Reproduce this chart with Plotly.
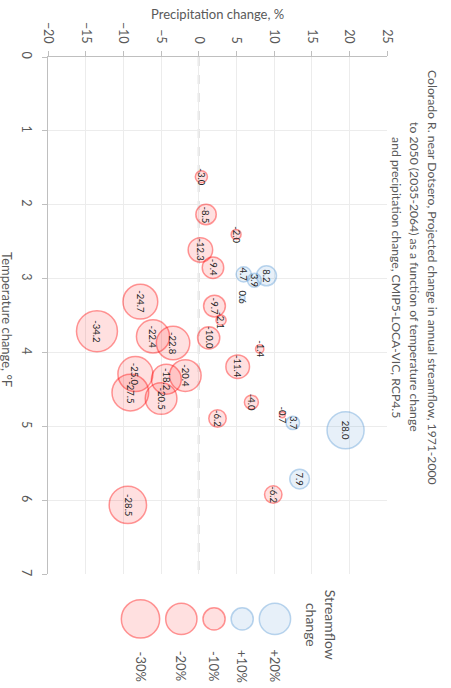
import math
import plotly.graph_objects as go

# Projected change per GCM: precipitation change (%), temperature change (°F), streamflow change (%)
precip_change = [0.36, 0.98, 4.97, 0.23, 1.9, 5.98, 7.4, 9.0, 5.8, 2.1, 2.97, 1.33,
                 -7.74, -13.5, -6.06, -3.4, -8.4, -9.07, -4.29, -1.77, -4.99, 2.5,
                 5.18, 8.1, 7.0, 11.1, 12.5, 19.5, 13.4, 9.9, -9.4]
temp_change = [1.62, 2.13, 2.40, 2.61, 2.85, 2.94, 3.02, 2.96, 3.26, 3.37, 3.56, 3.80,
               3.31, 3.71, 3.78, 3.87, 4.29, 4.54, 4.36, 4.31, 4.62, 4.89,
               4.19, 3.95, 4.67, 4.84, 4.95, 5.05, 5.71, 5.92, 6.06]
flow_change = [-3.0, -8.5, -2.0, -12.3, -9.4, 4.7, 3.9, 8.2, 0.6, -9.7, -2.1, -10.0,
               -24.7, -34.2, -22.4, -22.8, -25.0, -27.5, -18.2, -20.4, -20.5, -6.2,
               -11.4, -1.4, -4.0, -0.7, 3.7, 28.0, 7.9, -6.2, -28.5]

legend_values = [-30, -20, -10, 10, 20]
legend_labels = ["-30%", "-20%", "-10%", "+10%", "+20%"]

x_ticks = [-20, -15, -10, -5, 0, 5, 10, 15, 20, 25]
y_ticks = [0, 1, 2, 3, 4, 5, 6, 7]

TITLE_LINES = [
    "Colorado R. near Dotsero, Projected change in annual streamflow, 1971-2000",
    "to 2050 (2035-2064) as a function of temperature change",
    "and precipitation change, CMIP5-LOCA-VIC, RCP4.5",
]

FONT = "Lato, Carlito, Calibri, sans-serif"
GREY = "#595959"
RED_FILL, RED_LINE = "rgba(255,0,0,0.17)", "rgba(255,0,0,0.58)"
BLUE_FILL, BLUE_LINE = "rgba(91,155,213,0.2)", "rgba(91,155,213,0.6)"

W, H = 451, 688
L, R, T, B = 47.7, 64.4, 56.7, 0
PLOT_H = H - T - B
MAIN_BOTTOM = 576.0                       # pixel row of the 7 °F line
main_dom0 = (H - MAIN_BOTTOM) / PLOT_H
LEG_TOP = 580.0
leg_dom1 = (H - LEG_TOP) / PLOT_H

K = 3.5  # bubble radius (px) per sqrt(|% change|)


def diameter(v):
    return 2 * K * math.sqrt(abs(v))


def fill(v):
    return RED_FILL if v < 0 else BLUE_FILL


def edge(v):
    return RED_LINE if v < 0 else BLUE_LINE


# draw larger bubbles first so small ones stay visible
order = sorted(range(len(flow_change)), key=lambda i: -abs(flow_change[i]))

fig = go.Figure()

fig.add_trace(go.Scatter(
    x=[precip_change[i] for i in order],
    y=[temp_change[i] for i in order],
    mode="markers",
    marker=dict(
        size=[diameter(flow_change[i]) for i in order],
        sizemode="diameter",
        color=[fill(flow_change[i]) for i in order],
        line=dict(color=[edge(flow_change[i]) for i in order], width=1.5),
    ),
    cliponaxis=False,
    hoverinfo="skip",
    showlegend=False,
))

# size legend: bubbles laid out side by side with a fixed gap
gap = 6
leg_x = []
cursor = 121.0
for v in legend_values:
    r = diameter(v) / 2
    leg_x.append(cursor + r)
    cursor += 2 * r + gap
leg_y = 620.7

fig.add_trace(go.Scatter(
    x=leg_x,
    y=[leg_y] * len(legend_values),
    mode="markers",
    marker=dict(
        size=[diameter(v) for v in legend_values],
        sizemode="diameter",
        color=[fill(v) for v in legend_values],
        line=dict(color=[edge(v) for v in legend_values], width=1.5),
    ),
    xaxis="x2", yaxis="y2",
    cliponaxis=False,
    hoverinfo="skip",
    showlegend=False,
))

annotations = []
for p, t, v in zip(precip_change, temp_change, flow_change):
    annotations.append(dict(
        x=p, y=t, xref="x", yref="y", text=f"{v:.1f}", textangle=90,
        showarrow=False, xanchor="center", yanchor="middle",
        font=dict(family=FONT, size=9.5, color="#262626"),
    ))

for x, lab in zip(leg_x, legend_labels):
    annotations.append(dict(
        x=x, y=668, xref="x2", yref="y2", text=lab, textangle=90,
        showarrow=False, xanchor="center", yanchor="middle",
        font=dict(family=FONT, size=13, color=GREY),
    ))

annotations.append(dict(
    x=321, y=627, xref="x2", yref="y2", text="Streamflow<br>change", textangle=90,
    showarrow=False, xanchor="center", yanchor="middle", align="center",
    font=dict(family=FONT, size=14, color=GREY),
))


def paper_x(px):
    return (px - L) / (W - L - R)


def paper_y(py):
    return (H - B - py) / PLOT_H


# title lines, rotated, first line on the right
for k, line in enumerate(TITLE_LINES):
    annotations.append(dict(
        x=paper_x(432 - 18 * k), y=paper_y(278), xref="paper", yref="paper", text=line,
        textangle=90, showarrow=False, xanchor="center", yanchor="middle",
        font=dict(family=FONT, size=12.2, color=GREY),
    ))

annotations.append(dict(
    x=paper_x(217), y=paper_y(14), xref="paper", yref="paper",
    text="Precipitation change, %", showarrow=False,
    xanchor="center", yanchor="middle",
    font=dict(family=FONT, size=13, color=GREY),
))
annotations.append(dict(
    x=paper_x(6), y=paper_y(320), xref="paper", yref="paper",
    text="Temperature change, °F", textangle=90, showarrow=False,
    xanchor="center", yanchor="middle",
    font=dict(family=FONT, size=13, color=GREY),
))

fig.update_layout(
    width=W, height=H,
    margin=dict(l=L, r=R, t=T, b=B, pad=0),
    paper_bgcolor="white", plot_bgcolor="white",
    font=dict(family=FONT, color=GREY),
    annotations=annotations,
    shapes=[dict(
        type="line", xref="x", yref="y", x0=0, x1=0, y0=0, y1=7,
        line=dict(color="#d9d9d9", width=2, dash="dash"), layer="below",
    )],
    xaxis=dict(
        range=[-20, 25], side="top", tickvals=x_ticks, tickangle=90,
        showgrid=True, gridcolor="#ececec", gridwidth=1,
        showline=True, linecolor="#bfbfbf", linewidth=1,
        ticks="outside", ticklen=5, tickcolor="#bfbfbf",
        zeroline=False, tickfont=dict(family=FONT, size=12.5, color=GREY),
        ticklabelstandoff=3, anchor="y", fixedrange=True,
    ),
    yaxis=dict(
        range=[7, 0], domain=[main_dom0, 1], tickvals=y_ticks, tickangle=90,
        showgrid=True, gridcolor="#ececec", gridwidth=1,
        showline=True, linecolor="#bfbfbf", linewidth=1,
        ticks="outside", ticklen=5, tickcolor="#bfbfbf",
        zeroline=False, tickfont=dict(family=FONT, size=12.5, color=GREY),
        ticklabelstandoff=5, anchor="x", fixedrange=True,
    ),
    xaxis2=dict(range=[L, W - R], domain=[0, 1], anchor="y2", visible=False, fixedrange=True),
    yaxis2=dict(range=[H - B, LEG_TOP], domain=[0, leg_dom1], anchor="x2", visible=False,
                fixedrange=True),
)

fig.write_html("out.html")
